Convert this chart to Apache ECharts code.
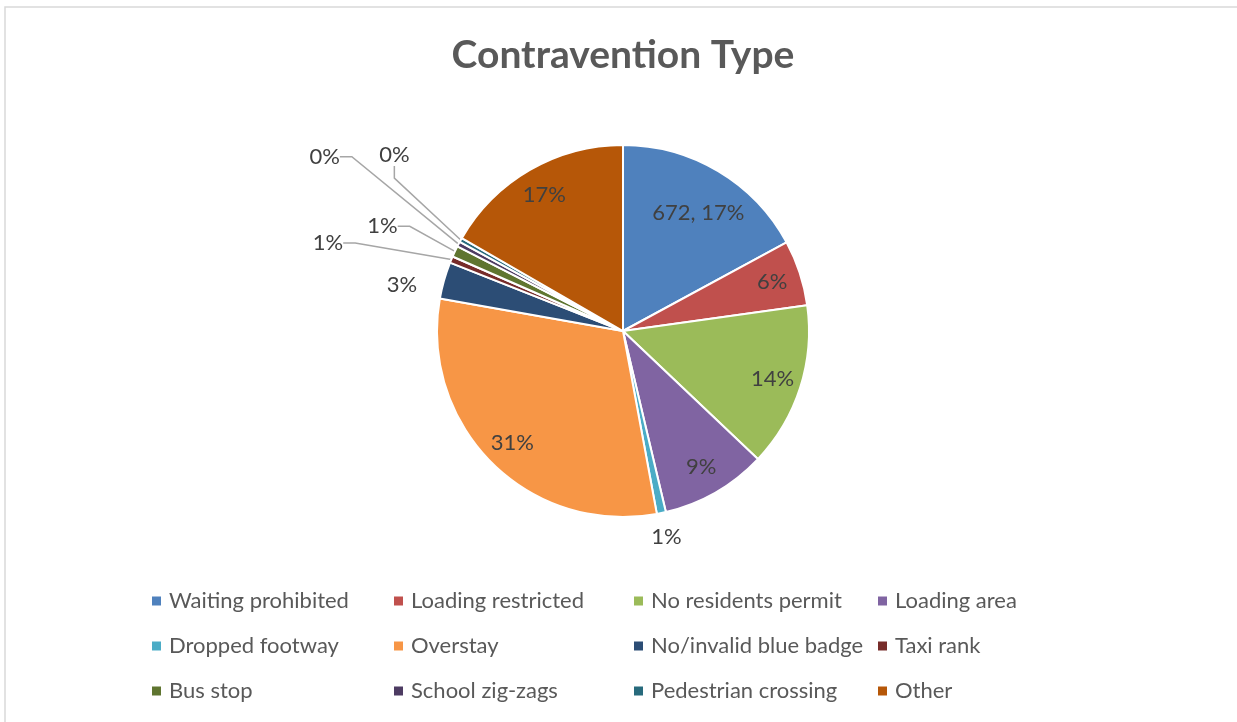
<!DOCTYPE html>
<html>
<head>
<meta charset="utf-8">
<title>Contravention Type</title>
<script src="https://cdn.jsdelivr.net/npm/echarts@6/dist/echarts.min.js"></script>
<style>
  html, body { margin: 0; padding: 0; background: #fff; }
  #chart { width: 1237px; height: 722px; }
</style>
</head>
<body>
<div id="chart"></div>
<script>
// data
const categories = [
  "Waiting prohibited", "Loading restricted", "No residents permit", "Loading area",
  "Dropped footway", "Overstay", "No/invalid blue badge", "Taxi rank",
  "Bus stop", "School zig-zags", "Pedestrian crossing", "Other"
];
const counts = [672, 224, 562, 362, 31, 1207, 126, 22, 38, 17, 14, 656];
const sliceColors = [
  "#4F81BD", "#C0504D", "#9BBB59", "#8064A2", "#4BACC6", "#F79646",
  "#2C4D75", "#772C2A", "#5F7530", "#4D3B62", "#276A7C", "#B65708"
];
// legend is laid out in 4 columns, 3 rows (indexes into categories)
const legendColumns = [[0, 4, 8], [1, 5, 9], [2, 6, 10], [3, 7, 11]];
const legendLeft = [152, 394, 634, 878];

// small slices get their label outside: [length, length2, show line]
const outsideLine = {
  4: [14, 0, false],
  6: [1, 17, false],
  7: [25, 12, true],
  8: [40, 12, true],
  9: [80, 12, true],
  10: [100, 12, true]
};
// label nudges (px) on top of the library's own placement
const labelNudge = {
  0: [-5, 17],
  4: [-22, 10],
  6: [0, 5],
  7: [-64, -7],
  8: [0, -8],
  9: [-27, -50],
  10: [57, -36]
};

const total = counts.reduce((a, b) => a + b, 0);
const FONT = "Lato";
const cx = 623, cy = 331, R = 186;

const mainData = categories.map((name, i) => ({
  name,
  value: counts[i],
  itemStyle: { color: sliceColors[i] }
}));

const labelData = categories.map((name, i) => {
  const o = outsideLine[i];
  const item = { name, value: counts[i] };
  if (o) {
    item.label = { position: "outside", padding: [0, 4, 0, 4] };
    item.labelLine = { show: o[2], length: o[0], length2: o[1] };
  } else {
    item.label = { position: "inside" };
    item.labelLine = { show: false };
  }
  return item;
});

const chart = echarts.init(document.getElementById("chart"));

const legends = legendColumns.map((col, k) => ({
  orient: "vertical",
  left: legendLeft[k],
  top: 590,
  padding: 0,
  itemWidth: 9,
  itemHeight: 9,
  itemGap: 23,
  icon: "rect",
  selectedMode: false,
  itemStyle: { borderWidth: 0 },
  textStyle: {
    color: "#595959",
    fontFamily: FONT,
    fontSize: 22,
    lineHeight: 22,
    padding: [0, 0, 0, 3]
  },
  data: col.map((i) => categories[i])
}));

chart.setOption({
  animation: false,
  backgroundColor: "#ffffff",
  title: {
    text: "Contravention Type",
    left: cx,
    top: 36,
    padding: 0,
    textAlign: "center",
    textStyle: {
      color: "#595959",
      fontFamily: FONT,
      fontWeight: "bold",
      fontSize: 39
    }
  },
  graphic: [{
    type: "rect",
    silent: true,
    shape: { x: 5, y: 7, width: 1300, height: 800 },
    style: { fill: "none", stroke: "#d9d9d9", lineWidth: 1.5 }
  }],
  legend: legends,
  series: [
    {
      name: "slices",
      type: "pie",
      center: [cx, cy],
      radius: R,
      startAngle: 90,
      clockwise: true,
      silent: true,
      label: { show: false },
      labelLine: { show: false },
      itemStyle: { borderColor: "#ffffff", borderWidth: 2 },
      data: mainData
    },
    {
      // transparent copy that only carries the data labels
      name: "labels",
      type: "pie",
      center: [cx, cy],
      radius: [122, R],
      startAngle: 90,
      clockwise: true,
      silent: true,
      avoidLabelOverlap: false,
      legendHoverLink: false,
      itemStyle: { color: "rgba(0,0,0,0)", borderWidth: 0 },
      label: {
        show: true,
        color: "#404040",
        fontFamily: FONT,
        fontSize: 22,
        formatter: function (p) {
          const pct = Math.round(p.value / total * 100);
          return p.dataIndex === 0 ? p.value + ", " + pct + "%" : pct + "%";
        }
      },
      labelLine: {
        show: true,
        lineStyle: { color: "#a6a6a6", width: 1.5 }
      },
      labelLayout: function (params) {
        const n = labelNudge[params.dataIndex];
        if (!n) return {};
        const r = params.labelRect;
        return {
          x: r.x + r.width / 2 + n[0],
          y: r.y + r.height / 2 + n[1],
          align: "center",
          verticalAlign: "middle"
        };
      },
      data: labelData
    }
  ]
});
</script>
</body>
</html>
